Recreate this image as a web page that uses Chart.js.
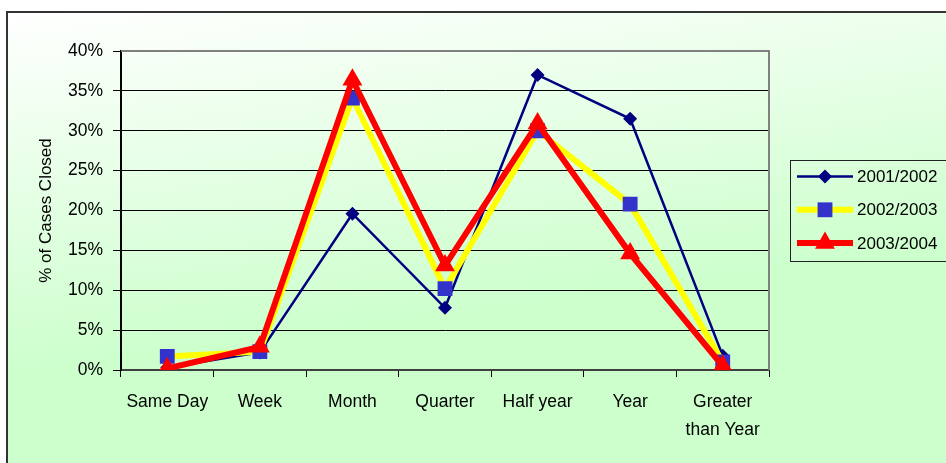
<!DOCTYPE html>
<html>
<head>
<meta charset="utf-8">
<script src="https://cdn.jsdelivr.net/npm/chart.js@4/dist/chart.umd.min.js"></script>
<style>
  body { margin: 0; background: #fff; }
  canvas { display: block; }
</style>
</head>
<body>
<canvas id="chart" width="946" height="463"></canvas>
<script>
// categories and series (percent of cases closed)
const categories = ['Same Day', 'Week', 'Month', 'Quarter', 'Half year', 'Year', ['Greater', 'than Year']];
const series2001 = [0.3, 2.2, 19.6, 7.8, 37.0, 31.5, 1.8];
const series2002 = [1.7, 2.3, 34.1, 10.2, 30.0, 20.8, 1.0];
const series2003 = [0.2, 2.9, 36.4, 13.1, 30.9, 14.6, 0.5];
const seriesNames = ['2001/2002', '2002/2003', '2003/2004'];
const yTicks = [0, 5, 10, 15, 20, 25, 30, 35, 40];

const FONT = 'Liberation Sans, Arial, sans-serif';

// frame + gradient background
const backdrop = {
    id: 'backdrop',
    beforeDraw: function(chart) {
        var ctx = chart.ctx;
        ctx.save();
        ctx.fillStyle = '#ffffff';
        ctx.fillRect(0, 0, chart.width, chart.height);
        var g = ctx.createLinearGradient(0, 12, 60, chart.height);
        g.addColorStop(0, '#ffffff');
        g.addColorStop(0.8, '#ccffcc');
        g.addColorStop(1, '#ccffcc');
        ctx.fillStyle = g;
        ctx.fillRect(8, 12, chart.width, chart.height);
        ctx.strokeStyle = '#333333';
        ctx.lineWidth = 2;
        ctx.strokeRect(7, 12, chart.width + 20, chart.height + 20);
        ctx.restore();
    },
    beforeDatasetsDraw: function(chart) {
        var a = chart.chartArea, ctx = chart.ctx;
        ctx.save();
        ctx.strokeStyle = '#808080';
        ctx.lineWidth = 2;
        ctx.beginPath();
        ctx.moveTo(a.left, a.top);
        ctx.lineTo(a.right, a.top);
        ctx.lineTo(a.right, a.bottom);
        ctx.stroke();
        ctx.restore();
    }
};

function drawMarker(ctx, style, x, y, r, color) {
    ctx.fillStyle = color;
    ctx.beginPath();
    if (style === 'rectRot') {
        ctx.moveTo(x, y - r); ctx.lineTo(x + r, y); ctx.lineTo(x, y + r); ctx.lineTo(x - r, y);
    } else if (style === 'rect') {
        var s = r * Math.SQRT1_2;
        ctx.rect(x - s, y - s, s * 2, s * 2);
    } else {
        ctx.moveTo(x, y - r);
        ctx.lineTo(x + r * Math.sin(Math.PI * 2 / 3), y + r / 2);
        ctx.lineTo(x - r * Math.sin(Math.PI * 2 / 3), y + r / 2);
    }
    ctx.closePath();
    ctx.fill();
}

// legend box drawn by hand so the line sample shows with its marker
const sideLegend = {
    id: 'sideLegend',
    afterDraw: function(chart) {
        var ctx = chart.ctx;
        ctx.save();
        ctx.strokeStyle = '#222222';
        ctx.lineWidth = 1;
        ctx.strokeRect(790.5, 160.5, 200, 101);
        ctx.font = '17px ' + FONT;
        ctx.textBaseline = 'middle';
        ctx.fillStyle = '#000';
        chart.data.datasets.forEach(function(ds, i) {
            var y = 176.5 + i * 33.3;
            ctx.strokeStyle = ds.borderColor;
            ctx.lineWidth = ds.borderWidth;
            ctx.beginPath();
            ctx.moveTo(797, y);
            ctx.lineTo(853, y);
            ctx.stroke();
            drawMarker(ctx, ds.pointStyle, 825, y, ds.pointRadius, ds.pointBackgroundColor);
            ctx.fillStyle = '#000';
            ctx.fillText(ds.label, 857, y + 1);
        });
        ctx.restore();
    }
};

new Chart(document.getElementById('chart'), {
    type: 'line',
    data: {
        labels: categories,
        datasets: [{
            label: seriesNames[0],
            data: series2001,
            borderColor: '#000080',
            borderWidth: 2.5,
            pointStyle: 'rectRot',
            pointRadius: 7,
            pointBackgroundColor: '#000080',
            pointBorderColor: '#000080',
            pointBorderWidth: 0,
            order: 2
        }, {
            label: seriesNames[1],
            data: series2002,
            borderColor: '#ffff00',
            borderWidth: 6,
            pointStyle: 'rect',
            pointRadius: 10.5,
            pointBackgroundColor: '#3333cc',
            pointBorderColor: '#3333cc',
            pointBorderWidth: 0,
            order: 1
        }, {
            label: seriesNames[2],
            data: series2003,
            borderColor: '#ff0000',
            borderWidth: 6,
            pointStyle: 'triangle',
            pointRadius: 11.5,
            pointBackgroundColor: '#ff0000',
            pointBorderColor: '#ff0000',
            pointBorderWidth: 0,
            order: 0
        }]
    },
    options: {
        responsive: false,
        animation: false,
        tension: 0,
        layout: {padding: {left: 0, top: 51, right: 177, bottom: 0}},
        plugins: {
            legend: {display: false},
            tooltip: {enabled: false}
        },
        scales: {
            x: {
                offset: true,
                afterFit: function(scale) { scale.height = 93; },
                grid: {
                    offset: true,
                    drawOnChartArea: false,
                    drawTicks: true,
                    tickLength: 7,
                    tickColor: '#000',
                    color: '#000'
                },
                border: {color: '#404040', width: 2},
                ticks: {
                    color: '#000',
                    font: {family: FONT, size: 17.5, lineHeight: 1.6},
                    padding: 11,
                    maxRotation: 0,
                    autoSkip: false
                }
            },
            y: {
                min: 0,
                max: 40,
                afterFit: function(scale) { scale.width = 121; },
                afterBuildTicks: function(scale) {
                    scale.ticks = yTicks.map(function(v) { return {value: v}; });
                },
                grid: {
                    color: function(c) { return c.tick && c.tick.value === 40 ? 'rgba(0,0,0,0)' : '#000'; },
                    lineWidth: 1,
                    tickLength: 8,
                    tickColor: '#000'
                },
                border: {color: '#000', width: 2},
                ticks: {
                    color: '#000',
                    font: {family: FONT, size: 17.5},
                    padding: 10,
                    callback: function(v) { return v + '%'; }
                },
                title: {
                    display: true,
                    text: '% of Cases Closed',
                    color: '#000',
                    font: {family: FONT, size: 17},
                    padding: {top: 36, bottom: 0}
                }
            }
        }
    },
    plugins: [backdrop, sideLegend]
});
</script>
</body>
</html>
